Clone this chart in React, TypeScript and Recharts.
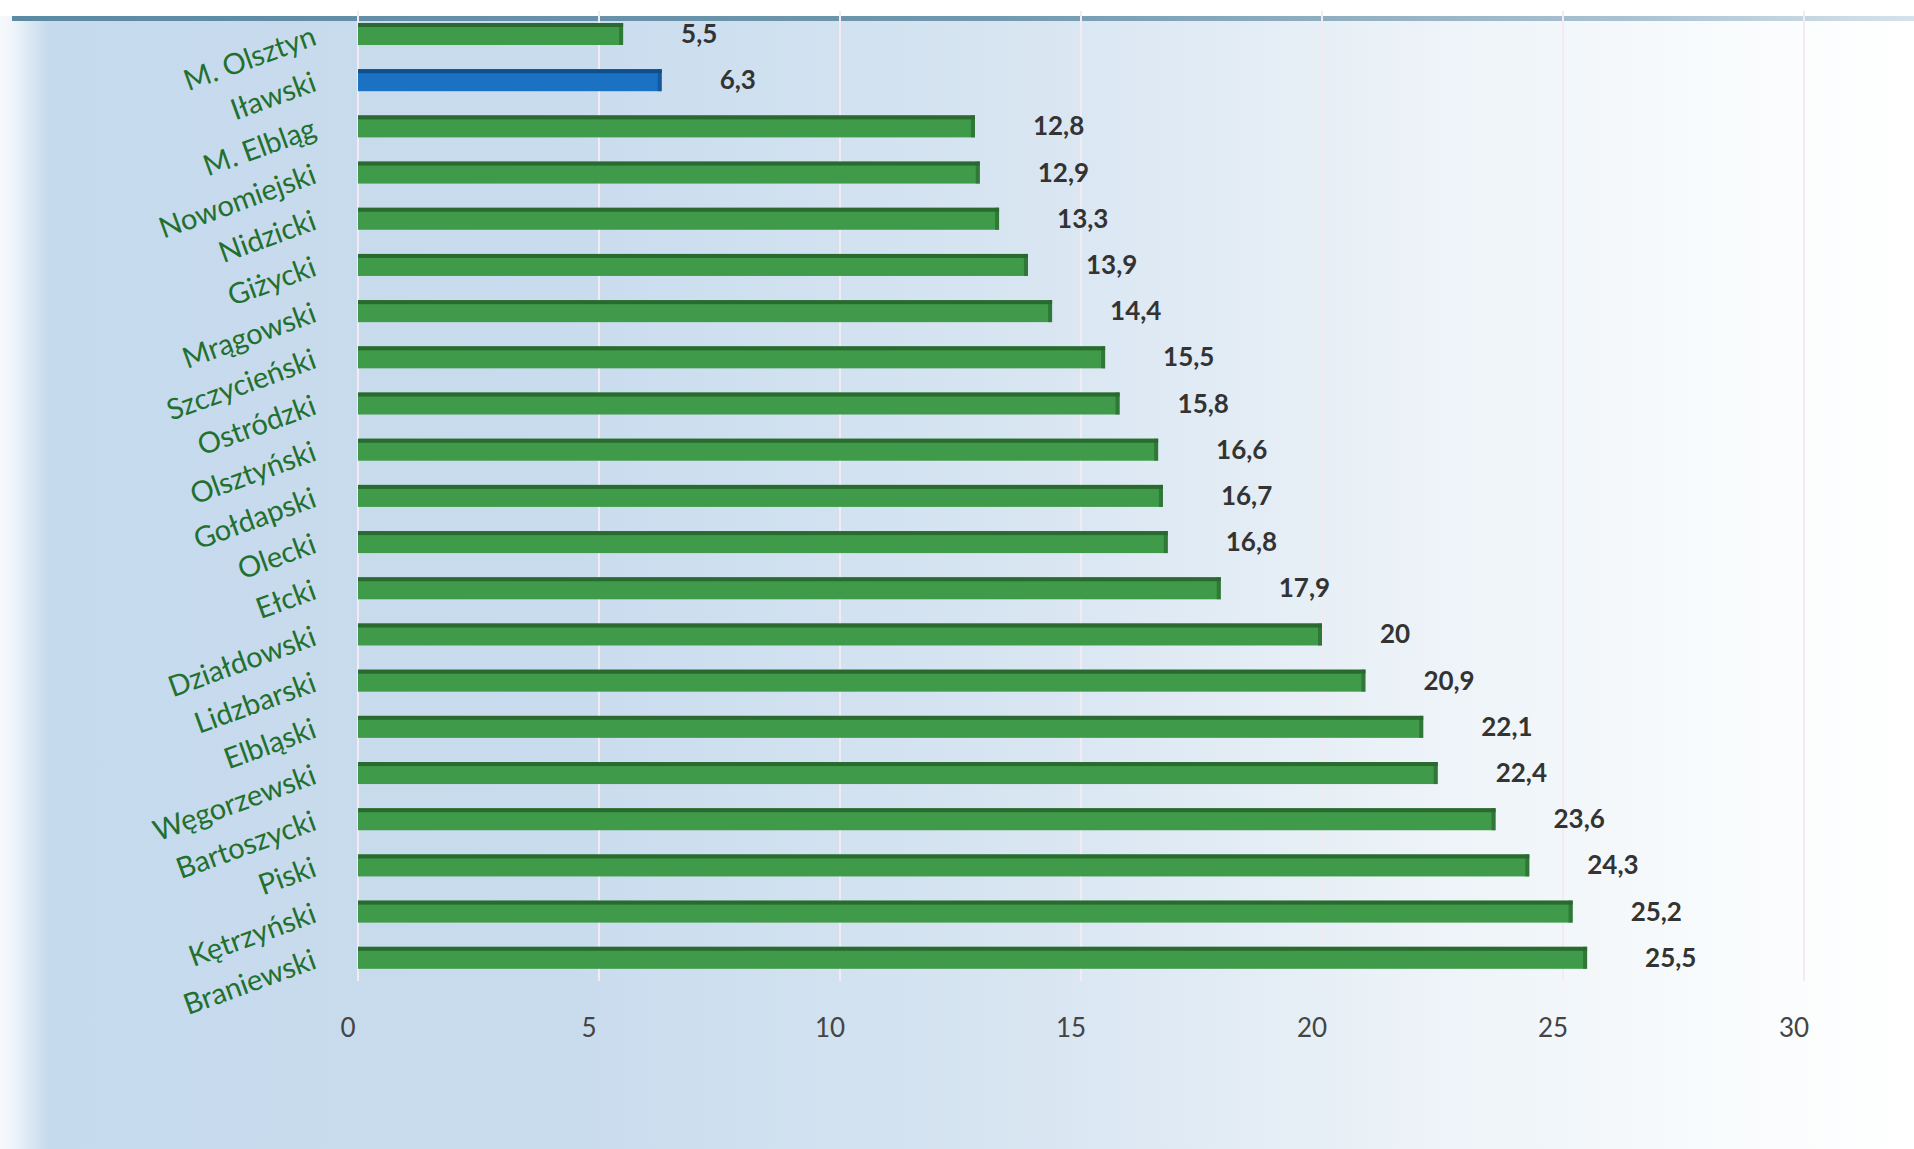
import { BarChart, Bar, XAxis, YAxis, CartesianGrid, LabelList, Cell } from "recharts";

const districts = [
  "M. Olsztyn", "Iławski", "M. Elbląg", "Nowomiejski", "Nidzicki", "Giżycki", "Mrągowski",
  "Szczycieński", "Ostródzki", "Olsztyński", "Gołdapski", "Olecki", "Ełcki", "Działdowski",
  "Lidzbarski", "Elbląski", "Węgorzewski", "Bartoszycki", "Piski", "Kętrzyński", "Braniewski",
];
const rates = [5.5, 6.3, 12.8, 12.9, 13.3, 13.9, 14.4, 15.5, 15.8, 16.6, 16.7, 16.8, 17.9, 20, 20.9, 22.1, 22.4, 23.6, 24.3, 25.2, 25.5];
const highlighted = "Iławski";
const xTicks = [0, 5, 10, 15, 20, 25, 30];

const data = districts.map((name, i) => ({ name, value: rates[i] }));

const GREEN = "#3f9a49";
const GREEN_DARK = "#2a6a31";
const BLUE = "#1c72c2";
const BLUE_DARK = "#0f4f8e";

function BarShape(props: any) {
  const { x, y, width, height, fill } = props;
  const dark = fill === BLUE ? BLUE_DARK : GREEN_DARK;
  return (
    <g>
      <rect x={x} y={y} width={width} height={height} fill={fill} />
      <rect x={x} y={y} width={width} height={4} fill={dark} />
      <rect x={x + width - 4} y={y} width={4} height={height} fill={dark} opacity={0.7} />
    </g>
  );
}

function CategoryTick({ x, y, payload }: any) {
  const tx = x - 40;
  const ty = y + 10;
  return (
    <text
      x={tx}
      y={ty}
      transform={`rotate(-20 ${tx} ${ty})`}
      textAnchor="end"
      fill="#22702f"
      fontSize={29}
      fontFamily="Lato"
    >
      {payload.value}
    </text>
  );
}

function ValueTick({ x, y, payload }: any) {
  return (
    <text x={x - 10} y={y + 56} textAnchor="middle" fill="#444" fontSize={26} fontFamily="Lato">
      {payload.value}
    </text>
  );
}

function ValueLabel({ x, y, width, height, value }: any) {
  return (
    <text
      x={x + width + 58}
      y={y + height / 2 + 9}
      fill="#333"
      fontSize={26}
      fontWeight="bold"
      fontFamily="Lato"
    >
      {String(value).replace(".", ",")}
    </text>
  );
}

export default function App() {
  return (
    <div
      style={{
        position: "relative",
        width: 1914,
        height: 1149,
        background:
          "linear-gradient(90deg, #f6f9fc 0%, #f0f5fa 0.6%, #c6daed 2.5%, #c9dcee 30%, #d9e6f2 55%, #edf3f8 75%, #fafcfd 92%, #ffffff 100%)",
      }}
    >
      <style>{`body{margin:0}`}</style>
      <div style={{ position: "absolute", left: 0, top: 0, width: 1914, height: 16, background: "#ffffff" }} />
      <div
        style={{
          position: "absolute",
          left: 12,
          top: 16,
          width: 1902,
          height: 5,
          background: "linear-gradient(90deg, #5b8aa3 0%, #6f97ad 50%, #a9c2d1 85%, #d6e2ea 100%)",
        }}
      />
      <div style={{ position: "absolute", left: 0, top: 0 }}>
        <BarChart
          width={1914}
          height={1149}
          data={data}
          layout="vertical"
          barCategoryGap={0}
          margin={{ top: 11, right: 110, bottom: 108, left: 0 }}
        >
          <CartesianGrid horizontal={false} stroke="#f4eaf1" strokeWidth={2} />
          <XAxis
            type="number"
            domain={[0, 30]}
            ticks={xTicks}
            height={60}
            axisLine={false}
            tickLine={false}
            tickSize={0}
            tickMargin={0}
            tick={<ValueTick />}
          />
          <YAxis
            type="category"
            dataKey="name"
            width={358}
            axisLine={false}
            tickLine={false}
            tickSize={0}
            tickMargin={0}
            interval={0}
            tick={<CategoryTick />}
          />
          <Bar dataKey="value" barSize={22} shape={<BarShape />} isAnimationActive={false}>
            {data.map((d) => (
              <Cell key={d.name} fill={d.name === highlighted ? BLUE : GREEN} />
            ))}
            <LabelList dataKey="value" content={<ValueLabel />} />
          </Bar>
        </BarChart>
      </div>
    </div>
  );
}
